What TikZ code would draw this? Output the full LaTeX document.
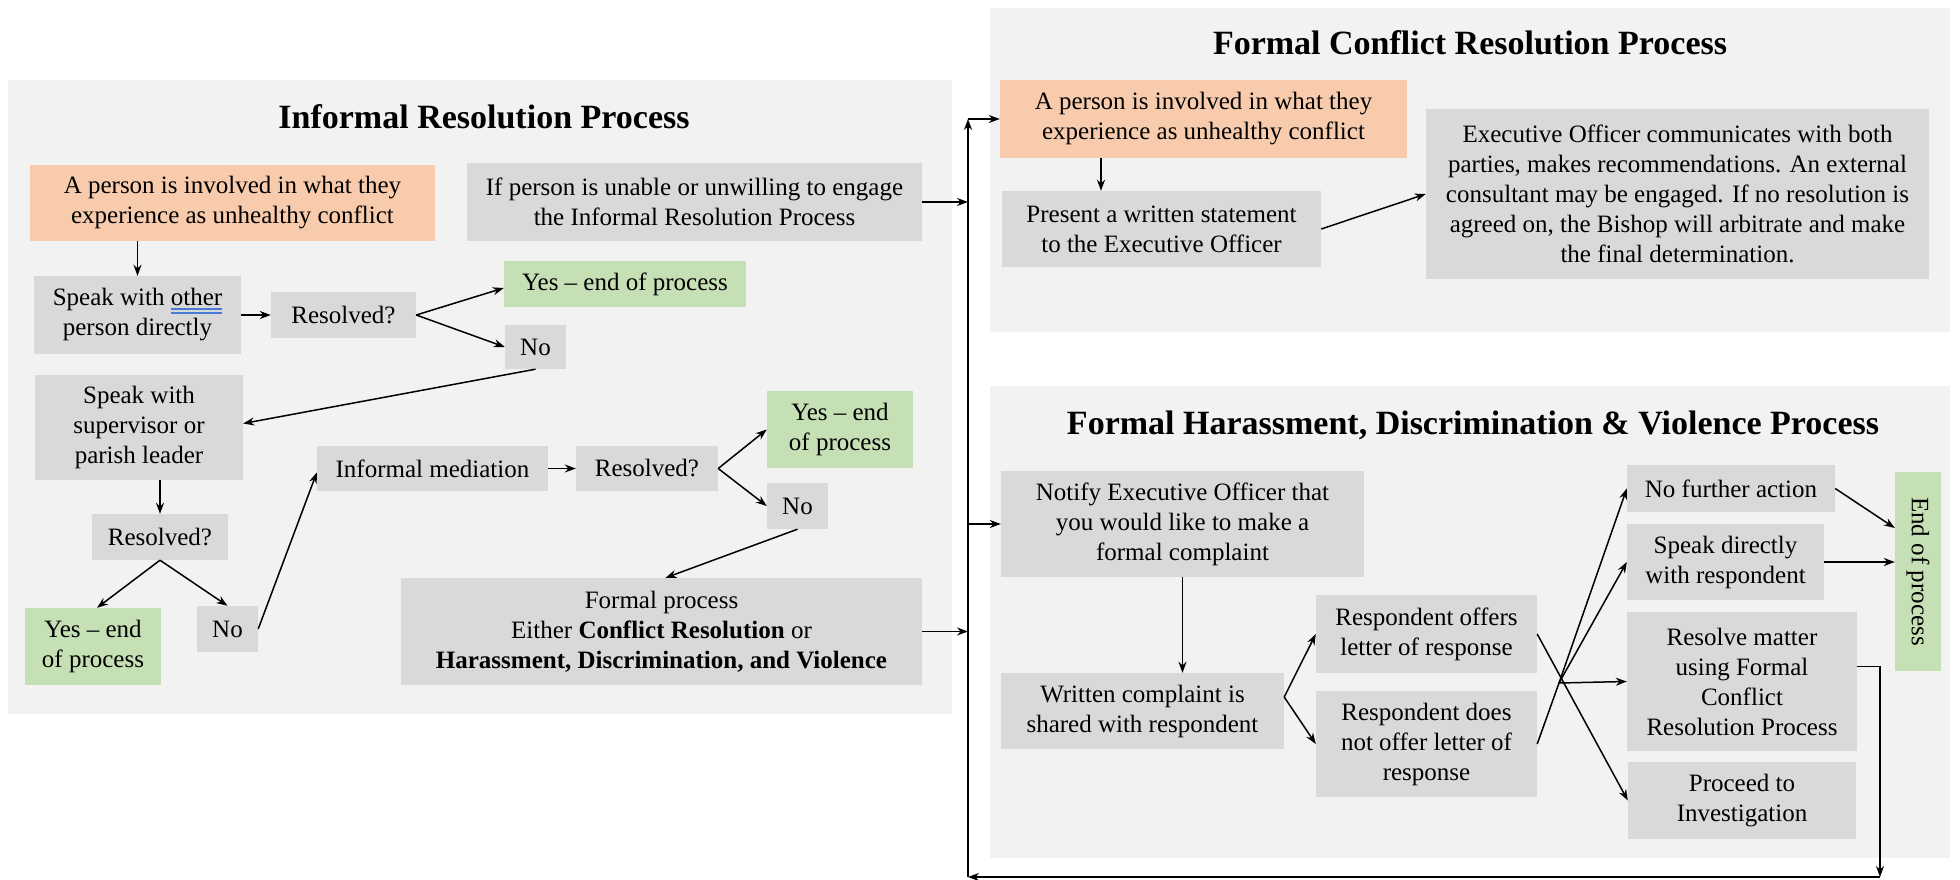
\documentclass[tikz,border=0pt]{standalone}
\usepackage{fontspec}
\setmainfont{Liberation Serif}
\usetikzlibrary{arrows.meta,calc}
\definecolor{panel}{HTML}{F2F2F2}
\definecolor{boxgray}{HTML}{D9D9D9}
\definecolor{peach}{HTML}{F8CBAD}
\definecolor{lgreen}{HTML}{C5E0B4}
\definecolor{ulblue}{HTML}{4A7BD8}
\newcommand{\fsbox}{\fontsize{25}{30}\selectfont}
\newcommand{\fstitle}{\fontsize{34}{40}\selectfont\bfseries}
\newsavebox{\ulbox}
\newcommand{\dblul}[1]{\sbox{\ulbox}{#1}\smash{\rlap{\usebox{\ulbox}}{\color{ulblue}\rlap{\raisebox{-4pt}{\rule{\wd\ulbox}{1.5pt}}}\raisebox{-8pt}{\rule{\wd\ulbox}{1.5pt}}}}}
\tikzset{
  box/.style={fill=boxgray, inner sep=0pt, align=center, font=\fsbox},
  peachbox/.style={box, fill=peach},
  greenbox/.style={box, fill=lgreen},
  paneltitle/.style={inner sep=0pt, font=\fstitle},
  arr/.style={line width=1.5pt, -{Stealth[length=11pt,width=8pt]}},
  ln/.style={line width=1.5pt},
}
\begin{document}
\begin{tikzpicture}[x=1pt,y=-1pt]
\useasboundingbox (0,0) rectangle (1960,880);
% panels
\fill[panel] (8,80) rectangle (952,714);
\fill[panel] (990,8) rectangle (1950,332);
\fill[panel] (990,386) rectangle (1950,858);
\node[paneltitle] (t1) at (484,117) {Informal Resolution Process};
\node[paneltitle] (t2) at (1470,43) {Formal Conflict Resolution Process};
\node[paneltitle] (t3) at (1473,425) {Formal Harassment, Discrimination \& Violence Process};

% Informal
\node[peachbox, minimum width=405pt, minimum height=76pt] (o1) at (232.5,203) {A person is involved in what they\\experience as unhealthy conflict};
\node[box, minimum width=455pt, minimum height=78pt] (unable) at (694.5,202) {If person is unable or unwilling to engage\\the Informal Resolution Process};
\node[box, minimum width=207pt, minimum height=78pt] (spk) at (137.5,315) {Speak with \dblul{other}\\person directly};
\node[box, minimum width=145pt, minimum height=46pt] (res1) at (343.5,315) {Resolved?};
\node[greenbox, minimum width=242pt, minimum height=46pt] (yes1) at (625,284) {Yes – end of process};
\node[box, minimum width=61pt, minimum height=44pt] (no1) at (535.5,347) {No};
\node[box, minimum width=208pt, minimum height=105pt] (sup) at (139,427.5) {Speak with\\supervisor or\\parish leader};
\node[box, minimum width=136pt, minimum height=46pt] (res2) at (160,537) {Resolved?};
\node[greenbox, minimum width=136pt, minimum height=77pt] (yes2) at (93,646.5) {Yes – end\\of process};
\node[box, minimum width=61pt, minimum height=46pt] (no2) at (227.5,629) {No};
\node[box, minimum width=231pt, minimum height=45pt] (med) at (432.5,468.5) {Informal mediation};
\node[box, minimum width=142pt, minimum height=45pt] (res3) at (647,468.5) {Resolved?};
\node[greenbox, minimum width=146pt, minimum height=77pt] (yes3) at (840,429.5) {Yes – end\\of process};
\node[box, minimum width=61pt, minimum height=46pt] (no3) at (797.5,506) {No};
\node[box, minimum width=521pt, minimum height=107pt] (formal) at (661.5,631.5) {Formal process\\Either \textbf{Conflict Resolution} or\\\textbf{Harassment, Discrimination, and Violence}};

% Formal conflict
\node[peachbox, minimum width=407pt, minimum height=78pt] (o2) at (1203.5,119) {A person is involved in what they\\experience as unhealthy conflict};
\node[box, minimum width=319pt, minimum height=76pt] (pres) at (1161.5,229) {Present a written statement\\to the Executive Officer};
\node[box, minimum width=503pt, minimum height=170pt] (exec) at (1677.5,194) {Executive Officer communicates with both\\parties, makes recommendations. An external\\consultant may be engaged. If no resolution is\\agreed on, the Bishop will arbitrate and make\\the final determination.};

% Harassment
\node[box, minimum width=363pt, minimum height=106pt] (notify) at (1182.5,524) {Notify Executive Officer that\\you would like to make a\\formal complaint};
\node[box, minimum width=283pt, minimum height=76pt] (writ) at (1142.5,711) {Written complaint is\\shared with respondent};
\node[box, minimum width=221pt, minimum height=78pt] (roff) at (1426.5,634) {Respondent offers\\letter of response};
\node[box, minimum width=221pt, minimum height=106pt] (rdn) at (1426.5,744) {Respondent does\\not offer letter of\\response};
\node[box, minimum width=208pt, minimum height=47pt] (nfa) at (1731,488.5) {No further action};
\node[box, minimum width=197pt, minimum height=76pt] (sdr) at (1725.5,562) {Speak directly\\with respondent};
\node[box, minimum width=230pt, minimum height=139pt] (rsv) at (1742,681.5) {Resolve matter\\using Formal\\Conflict\\Resolution Process};
\node[box, minimum width=228pt, minimum height=77pt] (prc) at (1742,800.5) {Proceed to\\Investigation};
\node[greenbox, minimum width=46pt, minimum height=199pt] (endp) at (1918,571.5) {\rotatebox{-90}{End of process}};

% coordinates
\coordinate (vt) at (968,119);
\coordinate (vb) at (968,877);
\coordinate (rb) at (1880,877);
\coordinate (fan) at (1559,683);

% Informal connectors
\draw[arr] (spk.north |- o1.south) -- (spk.north);
\draw[arr] (spk.east) -- (res1.west);
\draw[arr] (res1.east) -- ([yshift=-4pt]yes1.west);
\draw[arr] (res1.east) -- (no1.west);
\draw[arr] (no1.south) -- ([yshift=4pt]sup.east);
\draw[arr] (res2.north |- sup.south) -- (res2.north);
\draw[arr] (res2.south) -- ([xshift=4pt]yes2.north);
\draw[arr] (res2.south) -- (no2.north);
\draw[arr] (no2.east) -- ([yshift=-4pt]med.west);
\draw[arr] (med.east) -- (res3.west);
\draw[arr] (res3.east) -- (yes3.west);
\draw[arr] (res3.east) -- (no3.west);
\draw[arr] (no3.south) -- ([xshift=4pt]formal.north);
\draw[arr] (unable.east) -- (unable.east -| vt);
\draw[arr] (formal.east) -- (formal.east -| vt);

% loop line
\draw[arr] ([yshift=15pt]rsv.east) -| (rb);
\draw[arr] (rb) -- (vb);
\draw[arr] (vb) -- (vt);
\draw[arr] (vt) -- (o2.west);
\draw[arr] (notify.west -| vt) -- (notify.west);

% Formal conflict connectors
\draw[arr] ([xshift=-102.5pt]o2.south) -- ([xshift=-60.5pt]pres.north);
\draw[arr] (pres.east) -- (exec.west);

% Harassment connectors
\draw[arr] (notify.south) -- (notify.south |- writ.north);
\draw[arr] ([yshift=14pt]writ.east) -- (roff.west);
\draw[arr] ([yshift=14pt]writ.east) -- (rdn.west);
\draw[arr] (roff.east) -- (prc.west);
\draw[ln] (rdn.east) -- (fan);
\draw[arr] (fan) -- (nfa.west);
\draw[arr] (fan) -- (sdr.west);
\draw[arr] (fan) -- (rsv.west);
\draw[arr] (nfa.east) -- ([yshift=43.5pt]endp.west);
\draw[arr] (sdr.east) -- (sdr.east -| endp.west);
\end{tikzpicture}
\end{document}
